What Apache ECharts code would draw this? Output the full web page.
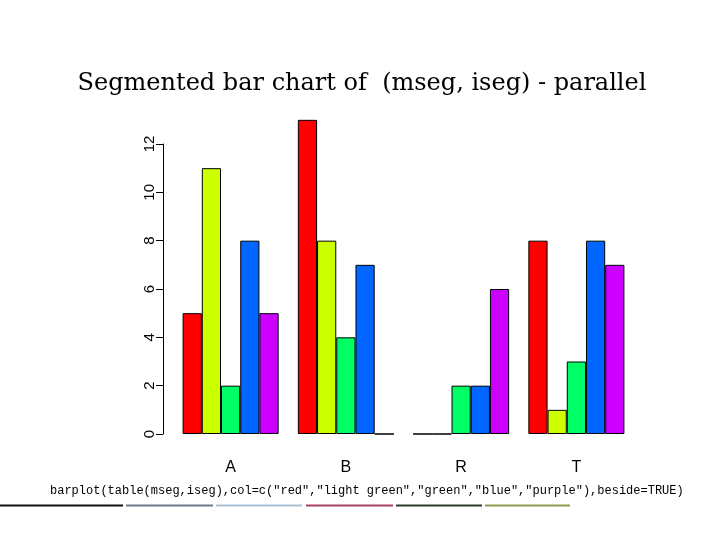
<!DOCTYPE html>
<html>
<head>
<meta charset="utf-8" />
<title>Segmented bar chart</title>
<script src="https://cdn.jsdelivr.net/npm/echarts@6/dist/echarts.min.js"></script>
<style>
  html, body { margin: 0; padding: 0; background: #fff; }
  #main { width: 720px; height: 540px; }
</style>
</head>
<body>
<div id="main"></div>
<script>
// categories (mseg) and one array per iseg level
var categories = ['A', 'B', 'R', 'T'];
var seriesNames = ['red', 'light green', 'green', 'blue', 'purple'];
var redVals = [5, 13, 0, 8];
var lightGreenVals = [11, 8, 0, 1];
var greenVals = [2, 4, 2, 3];
var blueVals = [8, 7, 2, 8];
var purpleVals = [5, 0, 6, 7];
var yTicks = [0, 2, 4, 6, 8, 10, 12];

var colors = ['#ff0000', '#ccff00', '#00ff66', '#0066ff', '#cc00ff'];
var allVals = [redVals, lightGreenVals, greenVals, blueVals, purpleVals];

var chart = echarts.init(document.getElementById('main'));

var series = allVals.map(function (vals, i) {
  return {
    name: seriesNames[i],
    type: 'bar',
    data: vals,
    clip: false,
    barGap: '0%',
    barCategoryGap: '16.67%',
    itemStyle: { color: colors[i], borderColor: '#000', borderWidth: 1 },
    emphasis: { disabled: true },
    animation: false
  };
});

// decorative rule under the code line
var ruleColors = ['#111111', '#6b7b8c', '#a9c1d3', '#a3405f', '#2f3a27', '#8d9b52'];
var ruleX = [[0, 123], [126, 213], [216, 302], [306, 393], [396, 482], [485, 570]];
var rules = ruleX.map(function (r, i) {
  return {
    type: 'line',
    shape: { x1: r[0], y1: 505.5, x2: r[1], y2: 505.5 },
    style: { stroke: ruleColors[i], lineWidth: 2 }
  };
});

chart.setOption({
  animation: false,
  title: {
    text: 'Segmented bar chart of  (mseg, iseg) - parallel',
    left: 357,
    top: 67,
    textAlign: 'center',
    textStyle: { fontFamily: 'DejaVu Serif', fontWeight: 'normal', fontSize: 24, color: '#000' }
  },
  grid: { left: 173, top: 144, width: 461, height: 290 },
  xAxis: {
    type: 'category',
    data: categories,
    axisLine: { show: false },
    axisTick: { show: false },
    axisLabel: { fontFamily: 'Liberation Sans', fontSize: 16, color: '#000', margin: 26 }
  },
  yAxis: {
    type: 'value',
    min: 0,
    max: 12,
    interval: 2,
    offset: 10,
    splitLine: { show: false },
    axisLine: { show: true, lineStyle: { color: '#000', width: 1 } },
    axisTick: { show: true, length: 7, lineStyle: { color: '#000' } },
    axisLabel: {
      rotate: 90,
      fontFamily: 'Liberation Sans',
      fontSize: 15,
      color: '#000',
      margin: 6,
      formatter: function (v) { return yTicks.indexOf(v) >= 0 ? String(v) : ''; }
    }
  },
  series: series,
  graphic: [
    {
      type: 'text',
      left: 50,
      top: 485,
      style: {
        text: 'barplot(table(mseg,iseg),col=c("red","light green","green","blue","purple"),beside=TRUE)',
        font: '12px "Liberation Mono"',
        fill: '#000'
      }
    }
  ].concat(rules)
});
</script>
</body>
</html>
